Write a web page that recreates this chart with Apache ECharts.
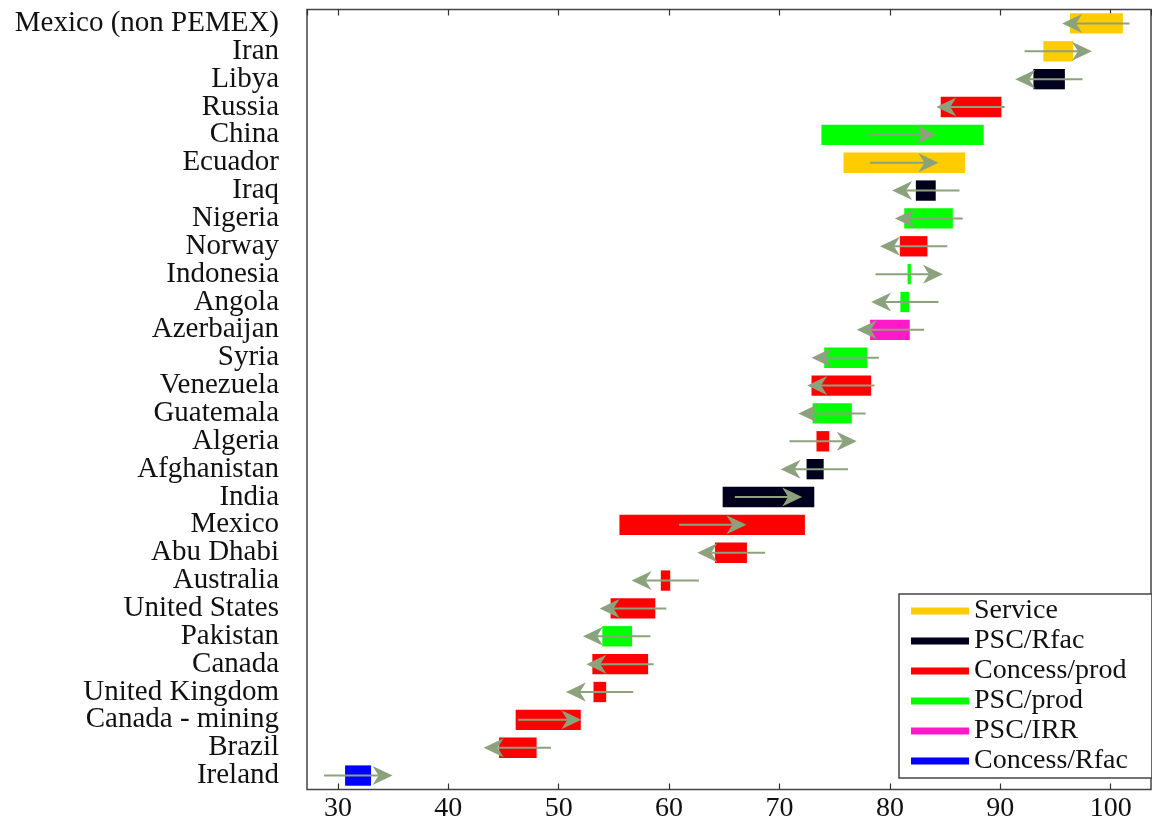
<!DOCTYPE html>
<html>
<head>
<meta charset="utf-8">
<script src="https://cdn.jsdelivr.net/npm/echarts@6/dist/echarts.min.js"></script>
<style>
html,body{margin:0;padding:0;background:#fff;}
#chart{width:1152px;height:827px;}
</style>
</head>
<body>
<div id="chart"></div>
<script>
// Countries, top to bottom
var countries = ["Mexico (non PEMEX)","Iran","Libya","Russia","China","Ecuador","Iraq","Nigeria","Norway","Indonesia","Angola","Azerbaijan","Syria","Venezuela","Guatemala","Algeria","Afghanistan","India","Mexico","Abu Dhabi","Australia","United States","Pakistan","Canada","United Kingdom","Canada - mining","Brazil","Ireland"];
// Fiscal regime of each country
var regimes = ["Service","Service","PSC/Rfac","Concess/prod","PSC/prod","Service","PSC/Rfac","PSC/prod","Concess/prod","PSC/prod","PSC/prod","PSC/IRR","PSC/prod","Concess/prod","PSC/prod","Concess/prod","PSC/Rfac","PSC/Rfac","Concess/prod","Concess/prod","Concess/prod","Concess/prod","PSC/prod","Concess/prod","Concess/prod","Concess/prod","Concess/prod","Concess/Rfac"];
// Range bar: low and high ends
var barLow  = [96.3,93.9,93.0,84.6,73.8,75.8,82.35,81.3,80.9,81.6,80.95,78.2,74.05,72.9,73.0,73.35,72.45,64.85,55.5,64.15,59.25,54.7,53.95,53.05,53.15,46.1,44.6,30.65];
var barHigh = [101.1,96.6,95.85,90.1,88.5,86.8,84.15,85.7,83.4,81.9,81.75,81.8,77.95,78.3,76.55,74.5,74.0,73.15,72.3,67.05,60.1,58.75,56.65,58.1,54.3,52.0,48.0,33.0];
// Arrow: start and tip
var arrowFrom = [101.7,92.2,97.45,90.4,78.1,78.2,86.3,86.6,85.2,78.7,84.4,83.1,79.0,78.6,77.8,70.9,76.2,65.95,60.9,68.7,62.7,59.75,58.3,58.6,56.75,46.3,49.3,28.75];
var arrowTo   = [95.6,98.3,91.35,84.2,84.2,84.4,80.2,80.45,79.1,84.8,78.3,77.0,72.9,72.5,71.7,77.0,70.1,72.05,67.0,62.55,56.6,53.7,52.2,52.5,50.65,52.05,43.2,34.95];
// Legend entries and colours
var regimeNames = ["Service","PSC/Rfac","Concess/prod","PSC/prod","PSC/IRR","Concess/Rfac"];
var regimeColors = ["#FFCC00","#00001E","#FF0000","#00FF00","#FF19C8","#0000FF"];

var FONT = "Liberation Serif";
var chart = echarts.init(document.getElementById('chart'), null, {renderer:'canvas'});

function barRender(params, api){
  var i = api.value(0);
  var lo = api.coord([api.value(1), i]);
  var hi = api.coord([api.value(2), i]);
  var h = api.size([0,1])[1] * 0.73;
  var x0 = Math.min(lo[0], hi[0]), w = Math.abs(hi[0]-lo[0]);
  return {type:'rect', shape:{x:x0, y:lo[1]-h/2, width:w, height:h}, style:{fill:api.visual('color')}};
}
function arrowRender(params, api){
  var i = api.value(0);
  var a = api.coord([api.value(1), i]);
  var b = api.coord([api.value(2), i]);
  var d = b[0] >= a[0] ? 1 : -1;
  var L = 20, W = 9.5, N = 14;
  var y = a[1];
  var col = '#8CA27C';
  return {type:'group', children:[
    {type:'line', shape:{x1:a[0], y1:y, x2:b[0]-d*N, y2:y}, style:{stroke:col, lineWidth:2}},
    {type:'polygon', shape:{points:[[b[0],y],[b[0]-d*L,y-W],[b[0]-d*N,y],[b[0]-d*L,y+W]]}, style:{fill:col}}
  ]};
}

var series = regimeNames.map(function(name, k){
  var data = [];
  for (var i=0;i<countries.length;i++){
    if (regimes[i]===name) data.push([i, barLow[i], barHigh[i]]);
  }
  return {type:'custom', name:name, renderItem:barRender, encode:{x:[1,2], y:0},
          itemStyle:{color:regimeColors[k]}, data:data, z:2};
});
var arrowData = countries.map(function(c,i){ return [i, arrowFrom[i], arrowTo[i]]; });
series.push({type:'custom', name:'arrows', renderItem:arrowRender, encode:{x:[1,2], y:0}, data:arrowData, z:3, silent:true});

var xCommon = {type:'value', min:27.2, max:103.65, splitNumber:8, splitLine:{show:false},
  axisLine:{show:false}, axisTick:{show:true, inside:true, length:6, lineStyle:{color:'#333', width:1.2}}};

chart.setOption({
  animation:false,
  backgroundColor:'#fff',
  textStyle:{fontFamily:FONT},
  grid:{left:307, right:1, top:9.5, bottom:37.5, show:true, borderColor:'#444', borderWidth:1.5, backgroundColor:'transparent'},
  legend:{
    data:regimeNames, orient:'vertical', left:899, top:594,
    icon:'rect', itemWidth:58, itemHeight:7, itemGap:2,
    padding:[3,24,3,12], borderColor:'#444', borderWidth:1.5, backgroundColor:'#fff',
    textStyle:{fontFamily:FONT, fontSize:28, color:'#111', lineHeight:28}, selectedMode:false
  },
  xAxis:[
    Object.assign({}, xCommon, {position:'bottom',
      axisLabel:{show:true, margin:5, fontFamily:FONT, fontSize:28, color:'#111', showMinLabel:false, showMaxLabel:false}}),
    Object.assign({}, xCommon, {position:'top', axisLabel:{show:false}})
  ],
  yAxis:{type:'category', data:countries, inverse:true, axisLine:{show:false}, axisTick:{show:false}, splitLine:{show:false},
    axisLabel:{margin:28, fontFamily:FONT, fontSize:29, color:'#111', interval:0}},
  series:series
});
</script>
</body>
</html>
